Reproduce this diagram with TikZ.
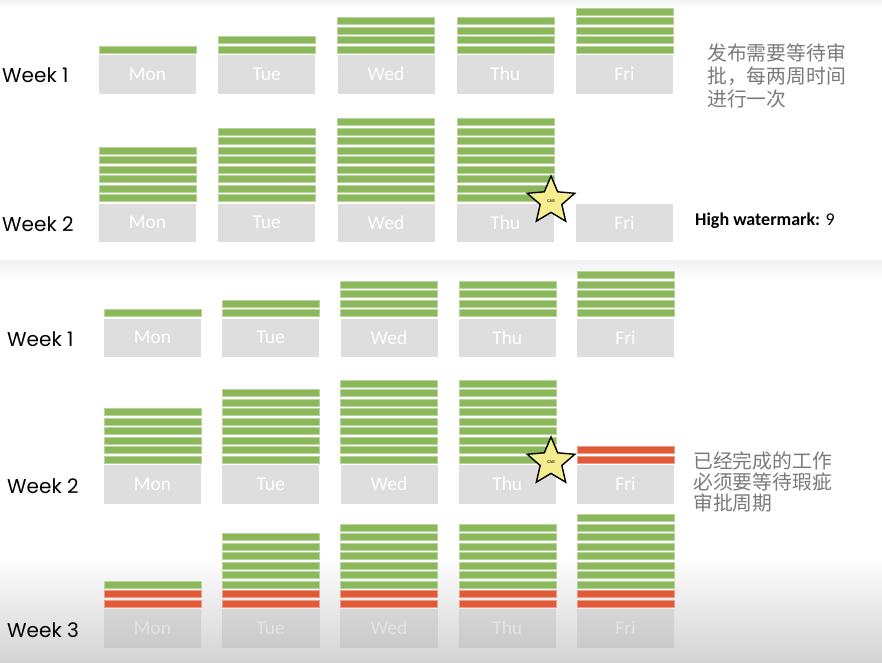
\documentclass[tikz,border=0pt]{standalone}
\usepackage{fontspec}
\setmainfont{Carlito}
\newfontfamily\gothic{Poppins}
\newfontfamily\cjk{Noto Sans CJK SC}
\usetikzlibrary{shapes.geometric}
\definecolor{boxgray}{HTML}{DEDEDE}
\definecolor{barg}{HTML}{8BB85A}
\definecolor{barr}{HTML}{E05A38}
\definecolor{txtgray}{HTML}{7A7A7A}
\definecolor{stary}{HTML}{F6EE8E}
\tikzset{
  x=1pt, y=-1pt,
  daybox/.style={fill=boxgray, minimum width=97pt, minimum height=38.5pt, inner sep=0pt,
    text=white, font=\fontsize{19.5}{19.5}\selectfont},
  fadedbox/.style={top color=black!16, bottom color=black!21, text=black!11},
  greenbar/.style={fill=barg, draw=barg!60!white, line width=0.5pt},
  redbar/.style={fill=barr, draw=barr!60!white, line width=0.5pt},
  weeklbl/.style={anchor=west, inner sep=0pt, font=\gothic\fontsize{20}{20}\selectfont, text=black},
  note/.style={anchor=north west, inner sep=0pt, align=left, text=txtgray},
  cabstar/.style={star, star points=5, star point ratio=2.2, minimum size=50pt, inner sep=0pt,
    fill=stary, draw=black, line width=1.4pt, font=\fontsize{4.5}{5}\selectfont}
}
\newcommand\barstack[4]{%
  \ifnum#4>0 \foreach \i in {1,...,#4}{\path[redbar] (#1,{#2-2-(\i-1)*9.5}) rectangle ++(97,-7);}\fi
  \ifnum#3>0 \foreach \i in {1,...,#3}{\path[greenbar] (#1,{#2-2-(\i-1+#4)*9.5}) rectangle ++(97,-7);}\fi
}
\newcommand\dayrow[6]{% prefix, first x, step, box top, style, list d/label/green/red
  \foreach \d/\lab/\g/\r [count=\k from 0] in {#6}{%
    \pgfmathsetmacro\xx{#2+\k*#3}
    \node[daybox,#5] (#1\lab) at (\xx+48.5,#4+19.25) {\lab};
    \barstack{\xx}{#4}{\g}{\r}
  }
}
\begin{document}
\begin{tikzpicture}
\useasboundingbox (0,0) rectangle (882,662);
\fill[white] (0,0) rectangle (882,662);
\shade[top color=black!5, bottom color=white] (0,0) rectangle (882,8);
\shade[top color=black!5, bottom color=white] (0,260) rectangle (882,280);
\shade[top color=white, bottom color=black!17] (0,555) rectangle (882,662);
% ---- top panel
\node[weeklbl] (tw1) at (2,75) {Week 1};
\node[weeklbl] (tw2) at (2,224) {Week 2};
\dayrow{ta}{99}{119.25}{55}{}{1/Mon/1/0,2/Tue/2/0,3/Wed/4/0,4/Thu/4/0,5/Fri/5/0}
\dayrow{tb}{99}{119.25}{203.5}{}{1/Mon/6/0,2/Tue/8/0,3/Wed/9/0,4/Thu/9/0,5/Fri/0/0}
\node[cabstar] (cab1) at (551,201) {CAB};
\node[note, font=\cjk\fontsize{19.8}{23}\selectfont] (n1) at (707,44) {发布需要等待审\\批，每两周时间\\进行一次};
\node[anchor=west, inner sep=0pt, font=\fontsize{18}{18}\selectfont] (hw) at (695,221) {\textbf{High watermark:} 9};
% ---- bottom panel
\node[weeklbl] (bw1) at (7,339) {Week 1};
\node[weeklbl] (bw2) at (7,486) {Week 2};
\node[weeklbl] (bw3) at (7,630) {Week 3};
\dayrow{ba}{104}{118.25}{318.5}{}{1/Mon/1/0,2/Tue/2/0,3/Wed/4/0,4/Thu/4/0,5/Fri/5/0}
\dayrow{bb}{104}{118.25}{465}{}{1/Mon/6/0,2/Tue/8/0,3/Wed/9/0,4/Thu/9/0,5/Fri/0/2}
\dayrow{bc}{104}{118.25}{609}{fadedbox}{1/Mon/1/2,2/Tue/6/2,3/Wed/7/2,4/Thu/7/2,5/Fri/8/2}
\node[cabstar] (cab2) at (551,462) {CAB};
\node[note, font=\cjk\fontsize{19.8}{21}\selectfont] (n2) at (693,451) {已经完成的工作\\必须要等待瑕疵\\审批周期};
\end{tikzpicture}
\end{document}
